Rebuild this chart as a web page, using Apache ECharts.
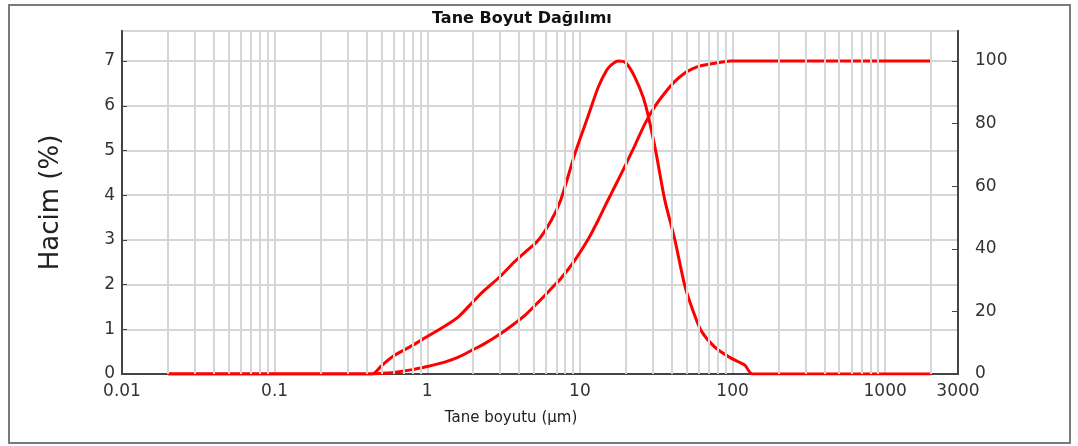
<!DOCTYPE html>
<html>
<head>
<meta charset="utf-8">
<script src="https://cdn.jsdelivr.net/npm/echarts@6/dist/echarts.min.js"></script>
<style>
html,body{margin:0;padding:0;background:#fff;}
#chart{width:1078px;height:446px;}
</style>
</head>
<body>
<div id="chart"></div>
<script>
// ---- data ----
const titleText = 'Tane Boyut Dağılımı';
const xName = 'Tane boyutu (µm)';
const yName = 'Hacim (%)';

// particle sizes (µm)
const sizes = [0.02, 0.435, 0.5, 0.6, 0.8, 1.0, 1.3, 1.6, 2.0, 2.3, 3.0, 3.7, 4.4, 5.3, 6.5, 7.5,
  9.3, 11.4, 13.2, 15, 16, 17.8, 20, 22.9, 26.7, 31, 36, 41.9, 48.7, 55, 62, 76.5, 97, 120, 135, 2000];
// volume frequency (%), left axis
const volume = [0, 0, 0.18, 0.40, 0.64, 0.84, 1.07, 1.28, 1.62, 1.83, 2.18, 2.50, 2.73, 2.98, 3.44, 3.90,
  4.94, 5.80, 6.42, 6.80, 6.91, 7.00, 6.96, 6.64, 6.06, 5.08, 3.89, 3.00, 1.97, 1.42, 0.98, 0.60, 0.36, 0.20, 0, 0];
// cumulative volume (%), right axis
const cumulative = [0, 0, 0.2, 0.5, 1.4, 2.4, 3.8, 5.4, 7.8, 9.3, 12.8, 16.0, 18.9, 22.8, 27.3, 30.5,
  36.5, 43.3, 49.2, 54.8, 57.5, 62, 67, 73, 80, 85.5, 89.8, 93.5, 96.2, 97.6, 98.5, 99.3, 100, 100, 100, 100];

// axes
const xMin = 0.01, xMax = 3000;
const xTickLabels = ['0.01', '0.1', '1', '10', '100', '1000', '3000'];
const leftTicks = [0, 1, 2, 3, 4, 5, 6, 7];
const rightTicks = [0, 20, 40, 60, 80, 100];
const leftMax = 7.672, rightMax = 109.6;

// minor vertical grid lines at 2..9 x 10^k
const minorGrid = [];
for (let k = -2; k <= 3; k++) {
  for (let m = 2; m <= 9; m++) {
    const v = +(m * Math.pow(10, k)).toPrecision(6);
    if (v > 0.01 && v < xMax) minorGrid.push(v);
  }
}

const volData = sizes.map((s, i) => [s, volume[i]]);
const cumData = sizes.map((s, i) => [s, cumulative[i]]);

const chart = echarts.init(document.getElementById('chart'), null, {renderer: 'canvas'});
const font = 'DejaVu Sans';
const gridColor = '#d6d6d6';
const axisColor = '#454545';

chart.setOption({
  animation: false,
  backgroundColor: '#fff',
  title: {
    text: titleText,
    left: 427,
    top: 6,
    textStyle: {fontFamily: font, fontSize: 16, fontWeight: 'bold', color: '#111'}
  },
  graphic: [{
    type: 'rect',
    shape: {x: 9, y: 5, width: 1061, height: 438},
    style: {fill: 'none', stroke: '#7a7a7a', lineWidth: 2},
    silent: true
  }],
  grid: {
    left: 122, right: 120, top: 31, bottom: 72,
    show: true, borderColor: axisColor, borderWidth: 2, backgroundColor: '#fff'
  },
  xAxis: {
    type: 'log',
    logBase: 10,
    min: xMin,
    max: xMax,
    name: xName,
    nameLocation: 'middle',
    nameGap: 37,
    nameTextStyle: {fontFamily: font, fontSize: 15, color: '#222', padding: [0, 58, 0, 0]},
    axisLine: {show: true, lineStyle: {color: axisColor, width: 2}},
    axisTick: {show: false},
    axisLabel: {
      fontFamily: font, fontSize: 17, color: '#333', margin: 9,
      formatter: function (v) {
        const s = String(+(+v).toPrecision(6));
        return xTickLabels.indexOf(s) >= 0 ? s : '';
      }
    },
    splitLine: {show: true, lineStyle: {color: gridColor, width: 2}}
  },
  yAxis: [{
    type: 'value',
    min: 0,
    max: leftMax,
    interval: 1,
    name: yName,
    nameLocation: 'middle',
    nameGap: 58,
    nameTextStyle: {fontFamily: font, fontSize: 26, color: '#222'},
    axisLine: {show: true, lineStyle: {color: axisColor, width: 2}},
    axisTick: {show: true, inside: true, length: 5, lineStyle: {color: axisColor}},
    axisLabel: {
      fontFamily: font, fontSize: 17, color: '#333', margin: 7, showMaxLabel: false,
      formatter: function (v) { return leftTicks.indexOf(v) >= 0 ? String(v) : ''; }
    },
    splitLine: {show: true, lineStyle: {color: gridColor, width: 2}}
  }, {
    type: 'value',
    min: 0,
    max: rightMax,
    interval: 20,
    position: 'right',
    axisLine: {show: true, lineStyle: {color: axisColor, width: 2}},
    axisTick: {show: true, inside: true, length: 6, lineStyle: {color: axisColor}},
    axisLabel: {
      fontFamily: font, fontSize: 17, color: '#333', margin: 17, showMaxLabel: false,
      formatter: function (v) { return rightTicks.indexOf(v) >= 0 ? String(v) : ''; }
    },
    splitLine: {show: false}
  }],
  series: [{
    name: 'minor grid',
    type: 'line',
    data: [],
    z: 1,
    silent: true,
    markLine: {
      silent: true,
      symbol: 'none',
      label: {show: false},
      animation: false,
      lineStyle: {color: gridColor, width: 2, type: 'solid'},
      data: minorGrid.map(v => ({xAxis: v}))
    }
  }, {
    name: 'Hacim',
    type: 'line',
    yAxisIndex: 0,
    data: volData,
    symbol: 'none',
    smooth: 0.25,
    z: 3,
    lineStyle: {color: '#ff0000', width: 3}
  }, {
    name: 'Kümülatif',
    type: 'line',
    yAxisIndex: 1,
    data: cumData,
    symbol: 'none',
    smooth: 0.25,
    z: 3,
    lineStyle: {color: '#ff0000', width: 3}
  }]
});
</script>
</body>
</html>
